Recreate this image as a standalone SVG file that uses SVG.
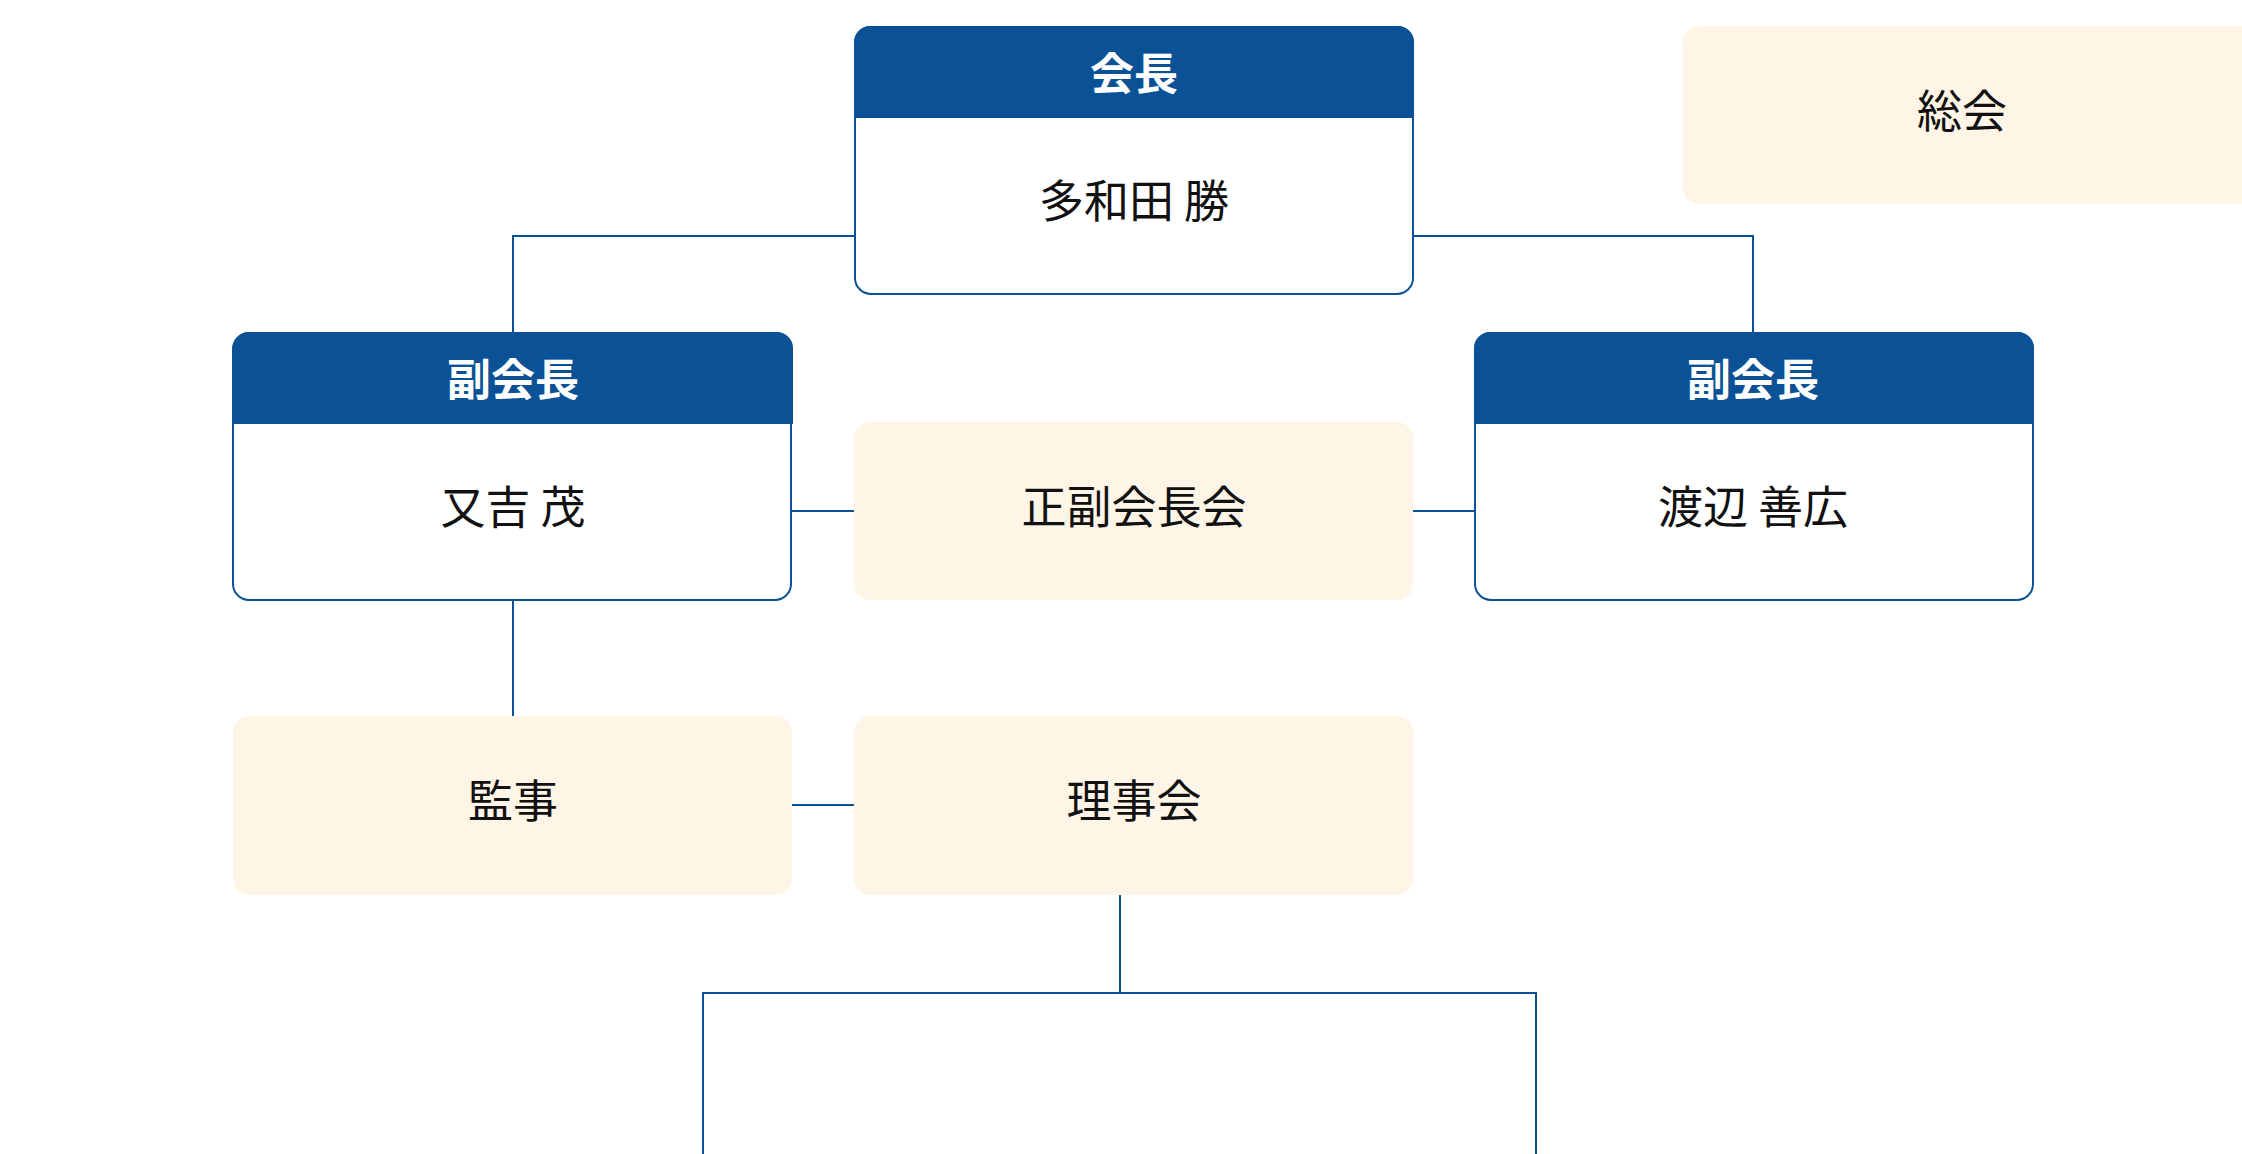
<svg xmlns="http://www.w3.org/2000/svg" width="2242" height="1154" viewBox="0 0 2242 1154">
<style>
.hd{fill:#0a5195}
.bd{fill:#fff;stroke:#0a5195;stroke-width:2}
.cr{fill:#fef5e7}
.ht{font-family:"Noto Sans CJK JP",sans-serif;font-weight:bold;font-size:44px;fill:#fff;text-anchor:middle}
.bt{font-family:"Noto Sans CJK JP",sans-serif;font-size:45px;fill:#111;text-anchor:middle}
.ln{fill:none;stroke:#0a5195;stroke-width:2}
</style>
<rect width="2242" height="1154" fill="#fff"/>
<g id="connectors" class="ln">
<polyline points="854,236 513,236 513,332"/>
<polyline points="1413,236 1753,236 1753,332"/>
<line x1="792" y1="511" x2="854" y2="511"/>
<line x1="1413" y1="511" x2="1474" y2="511"/>
<line x1="513" y1="600" x2="513" y2="716"/>
<line x1="792" y1="805" x2="854" y2="805"/>
<polyline points="1120,895 1120,993 703,993 703,1154"/>
<polyline points="1120,993 1536,993 1536,1154"/>
</g>
<g id="president">
<rect class="bd" x="855" y="27" width="558" height="267" rx="16"/>
<path class="hd" d="M870,26h528a16,16 0 0 1 16,16v76h-560v-76a16,16 0 0 1 16,-16z"/>
<text class="ht" x="1134" y="90">会長</text>
<text class="bt" x="1134" y="218">多和田 勝</text>
</g>
<g id="sokai">
<rect class="cr" x="1683" y="26" width="580" height="178" rx="16"/>
<text class="bt" x="1962" y="128">総会</text>
</g>
<g id="vp-left">
<rect class="bd" x="233" y="333" width="558" height="267" rx="16"/>
<path class="hd" d="M249,332h528a16,16 0 0 1 16,16v76h-560v-76a16,16 0 0 1 16,-16z"/>
<text class="ht" x="513" y="396">副会長</text>
<text class="bt" x="513" y="524">又吉 茂</text>
</g>
<g id="vp-right">
<rect class="bd" x="1475" y="333" width="558" height="267" rx="16"/>
<path class="hd" d="M1490,332h528a16,16 0 0 1 16,16v76h-560v-76a16,16 0 0 1 16,-16z"/>
<text class="ht" x="1753" y="396">副会長</text>
<text class="bt" x="1753" y="524">渡辺 善広</text>
</g>
<g id="seifuku">
<rect class="cr" x="854" y="422" width="559" height="178" rx="16"/>
<text class="bt" x="1134" y="524">正副会長会</text>
</g>
<g id="kanji">
<rect class="cr" x="233" y="716" width="559" height="179" rx="16"/>
<text class="bt" x="513" y="818">監事</text>
</g>
<g id="rijikai">
<rect class="cr" x="854" y="716" width="559" height="179" rx="16"/>
<text class="bt" x="1134" y="818">理事会</text>
</g>
</svg>
